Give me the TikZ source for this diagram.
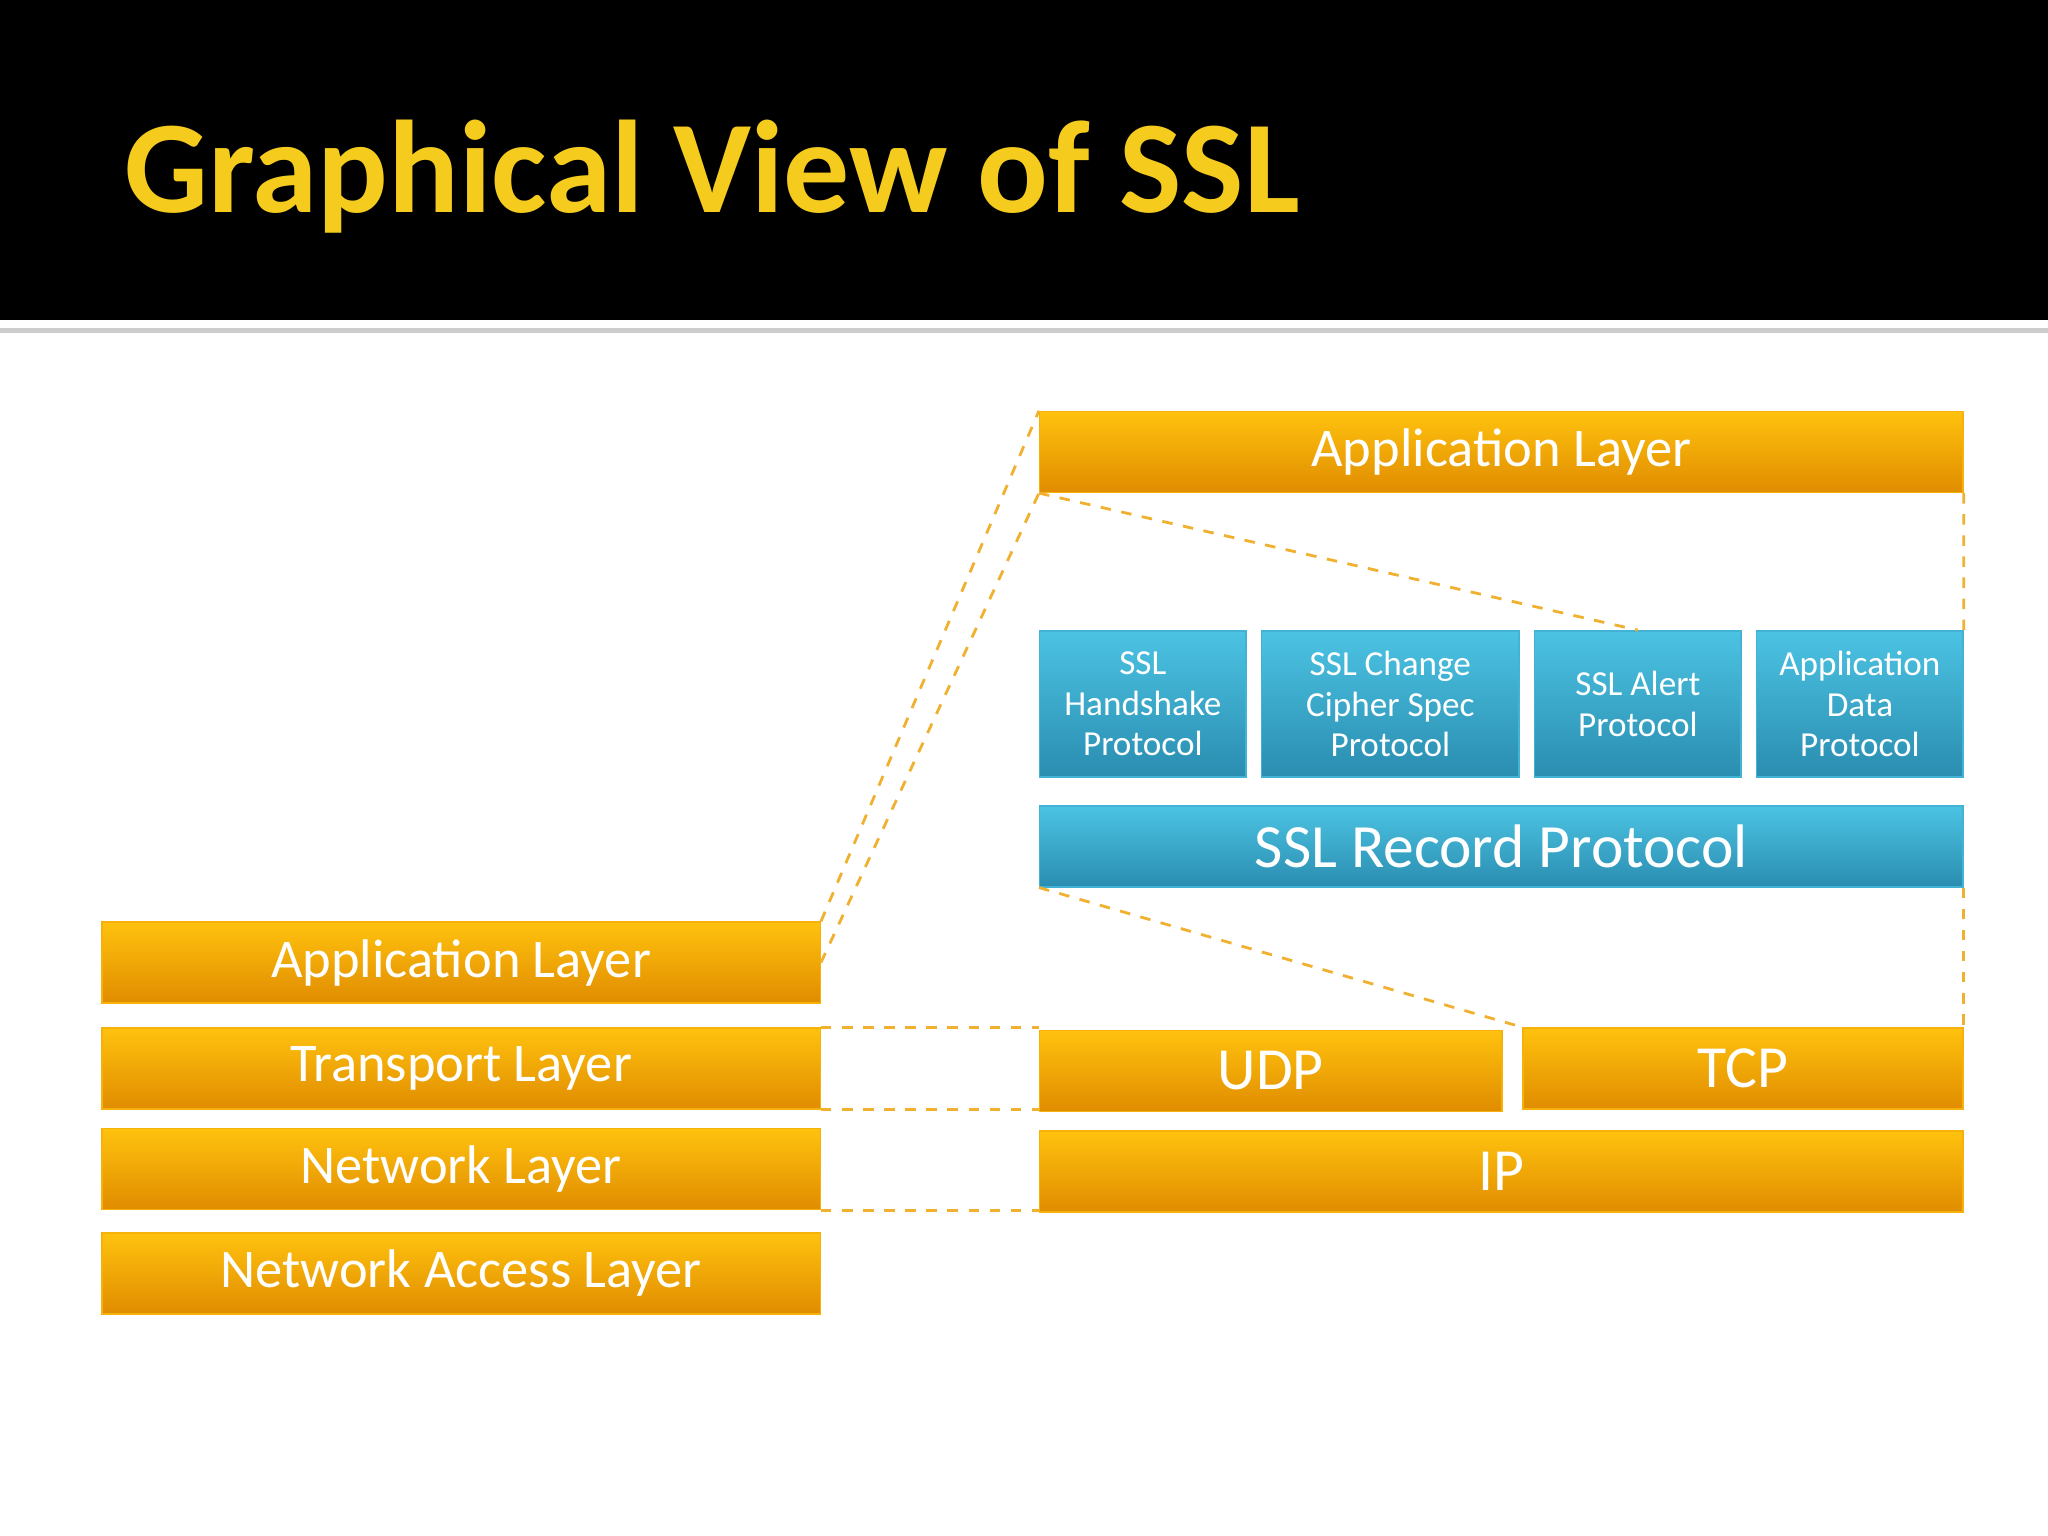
\documentclass[tikz,border=0pt]{standalone}
\usepackage{fontspec}
\setmainfont{Carlito}
\usetikzlibrary{calc,positioning}
\definecolor{orangetop}{HTML}{FFC20E}
\definecolor{orangebot}{HTML}{E08C00}
\definecolor{bluetop}{HTML}{4CC3E3}
\definecolor{bluebot}{HTML}{2A8DB0}
\definecolor{titleyellow}{HTML}{F5CC1E}
\definecolor{dashcol}{HTML}{F0B030}
\tikzset{
  layer/.style={draw=orangetop!70!orangebot, thin, top color=orangetop, bottom color=orangebot,
    text=white, inner sep=0pt, font=\fontsize{15.5}{17}\selectfont},
  proto/.style={draw=bluetop!70!bluebot, thin, top color=bluetop, bottom color=bluebot,
    text=white, inner sep=0pt, align=center, font=\fontsize{10}{11.5}\selectfont},
  link/.style={dashcol, dashed, thick}
}
\begin{document}
\begin{tikzpicture}[x=0.01306cm, y=-0.01306cm]
    \useasboundingbox (0,0) rectangle (1568,1176);
    % Header
    \fill[black] (0,0) rectangle (1568,245);
    \fill[white!60!gray] (0,251) rectangle (1568,255);
    \node[anchor=west, text=titleyellow, font=\fontsize{37.5}{40}\selectfont\bfseries] (title) at (86,135) {Graphical View of SSL};

    % Left stack
    \node[layer, minimum width=550*0.01306cm, minimum height=62*0.01306cm] (lapp) at (353,737) {Application Layer};
    \node[layer, minimum width=550*0.01306cm, minimum height=62*0.01306cm] (ltrans) at (353,818) {Transport Layer};
    \node[layer, minimum width=550*0.01306cm, minimum height=62*0.01306cm] (lnet) at (353,895) {Network Layer};
    \node[layer, minimum width=550*0.01306cm, minimum height=62*0.01306cm] (lacc) at (353,975) {Network Access Layer};

    % Right stack
    \node[layer, minimum width=707*0.01306cm, minimum height=62*0.01306cm] (rapp) at (1149.5,346) {Application Layer};
    \node[proto, minimum width=158*0.01306cm, minimum height=112*0.01306cm] (hs) at (875,539) {SSL\\Handshake\\Protocol};
    \node[proto, minimum width=197*0.01306cm, minimum height=112*0.01306cm] (ccs) at (1064.5,539) {SSL Change\\Cipher Spec\\Protocol};
    \node[proto, minimum width=158*0.01306cm, minimum height=112*0.01306cm] (alert) at (1254,539) {SSL Alert\\Protocol};
    \node[proto, minimum width=158*0.01306cm, minimum height=112*0.01306cm] (adata) at (1424,539) {Application\\Data\\Protocol};
    \node[proto, minimum width=707*0.01306cm, minimum height=62*0.01306cm, font=\fontsize{17.5}{19}\selectfont] (rec) at (1149.5,648) {SSL Record Protocol};
    \node[layer, minimum width=354*0.01306cm, minimum height=62*0.01306cm, font=\fontsize{17}{19}\selectfont] (udp) at (973,820) {UDP};
    \node[layer, minimum width=337*0.01306cm, minimum height=62*0.01306cm, font=\fontsize{17}{19}\selectfont] (tcp) at (1334.5,818) {TCP};
    \node[layer, minimum width=707*0.01306cm, minimum height=62*0.01306cm, font=\fontsize{17}{19}\selectfont] (ip) at (1149.5,897) {IP};

    % Dashed links
    \draw[link] (lapp.north east) -- (rapp.north west);
    \draw[link] (lapp.east) -- (rapp.south west);
    \draw[link] (rapp.south west) -- (alert.north);
    \draw[link] (rapp.south east) -- (adata.north east);
    \draw[link] (rec.south west) -- (tcp.north west);
    \draw[link] (rec.south east) -- (tcp.north east);
    \draw[link] (ltrans.north east) -- (udp.north west |- ltrans.north);
    \draw[link] (ltrans.south east) -- (udp.south west |- ltrans.south);
    \draw[link] (lnet.south east) -- (ip.south west |- lnet.south);
\end{tikzpicture}
\end{document}
